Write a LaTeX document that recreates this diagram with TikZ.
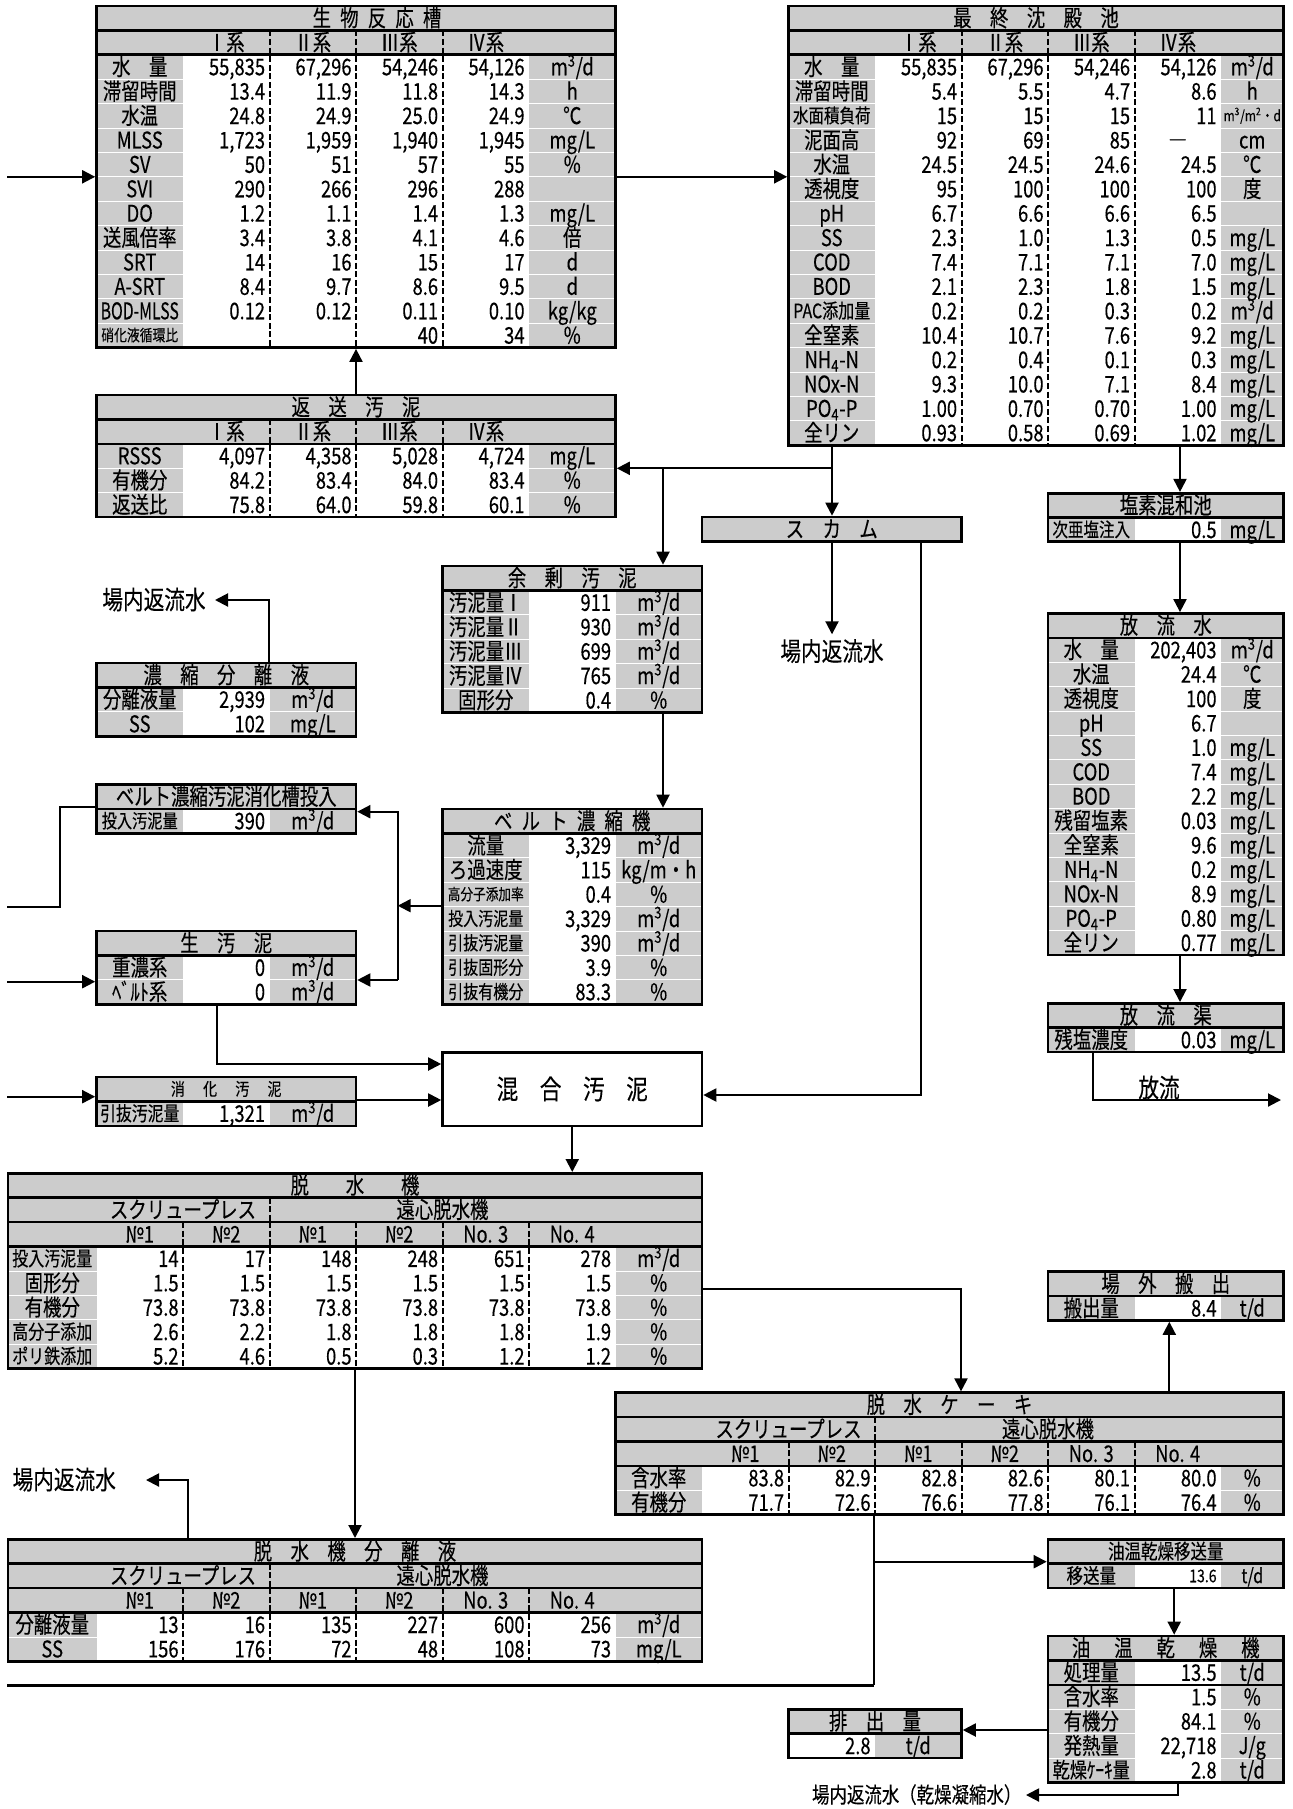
\documentclass[tikz,border=0pt]{standalone}
\usepackage{fontspec}
\setmainfont{Noto Sans CJK JP}[FakeBold=0.3]
\usetikzlibrary{arrows.meta,fit}
\definecolor{cg}{RGB}{204,204,204}
\newcounter{nn}
\newcommand\fs[1]{\fontsize{#1}{#1}\selectfont}
\newcommand\gq{\hspace{1em}}
\newcommand\gh{\hspace{0.5em}}
\newcommand\mcd{m\textsuperscript{3}/d}
\newcommand\nx[2]{\scalebox{#1}[1]{#2}}
\newcommand\sx[1]{\scalebox{0.8}[1]{#1}}
\tikzset{
 fsz/.style={font=\fs{#1},text height=0.86*#1,text depth=0.14*#1},
 tx/.style={inner sep=0pt,fsz=11.5pt},
 frame/.style={draw,line width=1.3pt,inner sep=0pt},
 sep/.style={line width=1.3pt},
 dv/.style={line width=1pt,dash pattern=on 3pt off 1.3pt},
 rowl/.style={white,line width=0.4pt},
 conn/.style={line width=1pt},
 arr/.style={conn,-{Triangle[length=6.5pt,width=6.5pt]}},
}
\newcommand\tn[4][]{\stepcounter{nn}\node[tx,#1] (n\arabic{nn}) at ({#2},{#3}) {\sx{#4}};}
\newcommand\setT[4]{\gdef\Yt{#1}\gdef\Lc{#2}\gdef\Vz{#3}\gdef\Uc{#4}}
\newcommand\rw[5][]{%
 \tn[#1]{\Lc}{\Yt+(#2+0.5)*24.4}{#3}%
 \foreach \v [count=\i] in {#4}{\tn[anchor=east]{\Vz+\i*86.5-4}{\Yt+(#2+0.5)*24.4}{\v}}%
 \tn{\Uc}{\Yt+(#2+0.5)*24.4}{#5}}
\newcommand\hdr[3]{\foreach \c [count=\i] in {#3}{\tn{#2+(\i-0.5)*86.5}{#1}{\c}}}
\newcommand\cbg[4]{\fill[cg] (#1,#2) rectangle (#3,#4);}
\newcommand\cwh[4]{\fill[white] (#1,#2) rectangle (#3,#4);}
\newcommand\hsp[3]{\draw[sep] (#1,#3) -- (#2,#3);}
\newcommand\dvs[3]{\foreach \xx in {#3}{\draw[dv] (\xx,#1) -- (\xx,#2);}}
\newcommand\rls[5]{\foreach \k in {#4,...,#5}{\draw[rowl] (#1,{#3+\k*24.4}) -- (#2,{#3+\k*24.4});}}
\newcommand\frm[5]{\node[frame,fit={(#2,#3) (#4,#5)}] (#1) {};}
\begin{document}
\begin{tikzpicture}[x=0.5pt,y=-0.5pt]
\fill[white] (0,0) rectangle (1292,1809);
\useasboundingbox (0,0) rectangle (1292,1809);

% ===== 生物反応槽 =====
\cbg{96.5}{6}{615.5}{347.6}
\cwh{183}{54.8}{529}{347.6}
\rls{96.5}{615.5}{6}{3}{13}
\setT{6}{139.75}{183}{572.25}
\tn{377}{18.2}{生\gh 物\gh 反\gh 応\gh 槽}
\hdr{42.6}{183}{Ⅰ系,Ⅱ系,Ⅲ系,Ⅳ系}
\rw{2}{水\gq 量}{{55,835},{67,296},{54,246},{54,126}}{\mcd}
\rw{3}{滞留時間}{13.4,11.9,11.8,14.3}{h}
\rw{4}{水温}{24.8,24.9,25.0,24.9}{℃}
\rw{5}{MLSS}{{1,723},{1,959},{1,940},{1,945}}{mg/L}
\rw{6}{SV}{50,51,57,55}{\%}
\rw{7}{SVI}{290,266,296,288}{}
\rw{8}{DO}{1.2,1.1,1.4,1.3}{mg/L}
\rw{9}{送風倍率}{3.4,3.8,4.1,4.6}{倍}
\rw{10}{SRT}{14,16,15,17}{d}
\rw{11}{A-SRT}{8.4,9.7,8.6,9.5}{d}
\rw{12}{\nx{0.86}{BOD-MLSS}}{0.12,0.12,0.11,0.10}{kg/kg}
\rw[fsz=8pt]{13}{硝化液循環比}{{},{},40,34}{\%}
\dvs{30.4}{347.6}{269.5,356,442.5}
\hsp{96.5}{615.5}{30.4}\hsp{96.5}{615.5}{54.8}
\frm{t1}{96.5}{6}{615.5}{347.6}

% ===== 最終沈殿池 =====
\cbg{788.5}{6}{1283.5}{445.2}
\cwh{875}{54.8}{1221}{445.2}
\rls{788.5}{1283.5}{6}{3}{17}
\setT{6}{831.75}{875}{1252.25}
\tn{1036}{18.2}{最\gq 終\gq 沈\gq 殿\gq 池}
\hdr{42.6}{875}{Ⅰ系,Ⅱ系,Ⅲ系,Ⅳ系}
\rw{2}{水\gq 量}{{55,835},{67,296},{54,246},{54,126}}{\mcd}
\rw{3}{滞留時間}{5.4,5.5,4.7,8.6}{h}
\rw[fsz=9.7pt]{4}{水面積負荷}{15,15,15,11}{}
\tn[fsz=7.5pt]{1252.25}{6+4.5*24.4}{m\textsuperscript{3}/m\textsuperscript{2}・d}
\rw{5}{泥面高}{92,69,85,{}}{cm}
\tn{1177.75}{6+5.5*24.4}{―}
\rw{6}{水温}{24.5,24.5,24.6,24.5}{℃}
\rw{7}{透視度}{95,100,100,100}{度}
\rw{8}{pH}{6.7,6.6,6.6,6.5}{}
\rw{9}{SS}{2.3,1.0,1.3,0.5}{mg/L}
\rw{10}{COD}{7.4,7.1,7.1,7.0}{mg/L}
\rw{11}{BOD}{2.1,2.3,1.8,1.5}{mg/L}
\rw[fsz=10pt]{12}{PAC添加量}{0.2,0.2,0.3,0.2}{\mcd}
\rw{13}{全窒素}{10.4,10.7,7.6,9.2}{mg/L}
\rw{14}{NH\textsubscript{4}-N}{0.2,0.4,0.1,0.3}{mg/L}
\rw{15}{NOx-N}{9.3,10.0,7.1,8.4}{mg/L}
\rw{16}{PO\textsubscript{4}-P}{1.00,0.70,0.70,1.00}{mg/L}
\rw{17}{全リン}{0.93,0.58,0.69,1.02}{mg/L}
\dvs{30.4}{445.2}{961.5,1048,1134.5}
\hsp{788.5}{1283.5}{30.4}\hsp{788.5}{1283.5}{54.8}
\frm{t2}{788.5}{6}{1283.5}{445.2}

% ===== 返送汚泥 =====
\cbg{96.5}{395}{615.5}{517}
\cwh{183}{443.8}{529}{517}
\rls{96.5}{615.5}{395}{3}{4}
\setT{395}{139.75}{183}{572.25}
\tn{356}{407.2}{返\gq 送\gq 汚\gq 泥}
\hdr{431.6}{183}{Ⅰ系,Ⅱ系,Ⅲ系,Ⅳ系}
\rw{2}{RSSS}{{4,097},{4,358},{5,028},{4,724}}{mg/L}
\rw{3}{有機分}{84.2,83.4,84.0,83.4}{\%}
\rw{4}{返送比}{75.8,64.0,59.8,60.1}{\%}
\dvs{419.4}{517}{269.5,356,442.5}
\hsp{96.5}{615.5}{419.4}\hsp{96.5}{615.5}{443.8}
\frm{t3}{96.5}{395}{615.5}{517}

% ===== スカム =====
\cbg{702}{517}{961.5}{541.4}
\tn{831.75}{529.2}{ス\gq カ\gq ム}
\frm{sc}{702}{517}{961.5}{541.4}

% ===== 余剰汚泥 =====
\cbg{442.5}{566}{702}{712.4}
\cwh{529}{590.4}{615.5}{712.4}
\rls{442.5}{702}{566}{2}{5}
\setT{566}{485.75}{529}{658.75}
\tn{572.25}{578.2}{余\gq 剰\gq 汚\gq 泥}
\rw{1}{汚泥量Ⅰ}{911}{\mcd}
\rw{2}{汚泥量Ⅱ}{930}{\mcd}
\rw{3}{汚泥量Ⅲ}{699}{\mcd}
\rw{4}{汚泥量Ⅳ}{765}{\mcd}
\rw{5}{固形分}{0.4}{\%}
\hsp{442.5}{702}{590.4}
\frm{yj}{442.5}{566}{702}{712.4}

% ===== 濃縮分離液 =====
\cbg{96.5}{663}{356}{736.2}
\cwh{183}{687.4}{269.5}{736.2}
\rls{96.5}{356}{663}{2}{2}
\setT{663}{139.75}{183}{312.75}
\tn{226.25}{675.2}{濃\gq 縮\gq 分\gq 離\gq 液}
\rw{1}{分離液量}{{2,939}}{\mcd}
\rw{2}{SS}{102}{mg/L}
\hsp{96.5}{356}{687.4}
\frm{nb}{96.5}{663}{356}{736.2}

% ===== ベルト濃縮汚泥消化槽投入 =====
\cbg{96.5}{784.5}{356}{833.3}
\cwh{183}{808.9}{269.5}{833.3}
\setT{784.5}{139.75}{183}{312.75}
\tn{226.25}{796.7}{ベルト濃縮汚泥消化槽投入}
\rw[fsz=9.5pt]{1}{投入汚泥量}{390}{\mcd}
\hsp{96.5}{356}{808.9}
\frm{bt}{96.5}{784.5}{356}{833.3}

% ===== ベルト濃縮機 =====
\cbg{442.5}{809}{702}{1004.2}
\cwh{529}{833.4}{615.5}{1004.2}
\rls{442.5}{702}{809}{2}{7}
\setT{809}{485.75}{529}{658.75}
\tn{572.25}{821.2}{ベ\gh ル\gh ト\gh 濃\gh 縮\gh 機}
\rw{1}{流量}{{3,329}}{\mcd}
\rw{2}{ろ過速度}{115}{kg/m・h}
\rw[fsz=7.9pt]{3}{高分子添加率}{0.4}{\%}
\rw[fsz=9.4pt]{4}{投入汚泥量}{{3,329}}{\mcd}
\rw[fsz=9.4pt]{5}{引抜汚泥量}{390}{\mcd}
\rw[fsz=9.4pt]{6}{引抜固形分}{3.9}{\%}
\rw[fsz=9.4pt]{7}{引抜有機分}{83.3}{\%}
\hsp{442.5}{702}{833.4}
\frm{bn}{442.5}{809}{702}{1004.2}

% ===== 生汚泥 =====
\cbg{96.5}{931}{356}{1004.2}
\cwh{183}{955.4}{269.5}{1004.2}
\rls{96.5}{356}{931}{2}{2}
\setT{931}{139.75}{183}{312.75}
\tn{226.25}{943.2}{生\gq 汚\gq 泥}
\rw{1}{重濃系}{0}{\mcd}
\rw{2}{ﾍﾞﾙﾄ系}{0}{\mcd}
\hsp{96.5}{356}{955.4}
\frm{ns}{96.5}{931}{356}{1004.2}

% ===== 消化汚泥 =====
\cbg{96.5}{1077}{356}{1125.8}
\cwh{183}{1101.4}{269.5}{1125.8}
\setT{1077}{139.75}{183}{312.75}
\tn[fsz=8.75pt]{226.25}{1089.2}{消\hspace{1.3em}化\hspace{1.3em}汚\hspace{1.3em}泥}
\rw[fsz=9.9pt]{1}{引抜汚泥量}{{1,321}}{\mcd}
\hsp{96.5}{356}{1101.4}
\frm{sk}{96.5}{1077}{356}{1125.8}

% ===== 混合汚泥 =====
\cwh{442.5}{1052.7}{702}{1126}
\tn[fsz=13.5pt]{572.25}{1089.4}{混\gq 合\gq 汚\gq 泥}
\frm{km}{442.5}{1052.7}{702}{1126}

% ===== 塩素混和池 =====
\cbg{1048}{493.2}{1283.5}{541.6}
\cwh{1134.5}{517.6}{1221}{541.6}
\setT{493.2}{1091.25}{1134.5}{1252.25}
\tn{1165.75}{505.4}{塩素混和池}
\rw[fsz=9.7pt]{1}{次亜塩注入}{0.5}{mg/L}
\hsp{1048}{1283.5}{517.6}
\frm{en}{1048}{493.2}{1283.5}{541.6}

% ===== 放流水 =====
\cbg{1048}{613.4}{1283.5}{955}
\cwh{1134.5}{637.8}{1221}{955}
\rls{1048}{1283.5}{613.4}{2}{13}
\setT{613.4}{1091.25}{1134.5}{1252.25}
\tn{1165.75}{625.6}{放\gq 流\gq 水}
\rw{1}{水\gq 量}{{202,403}}{\mcd}
\rw{2}{水温}{24.4}{℃}
\rw{3}{透視度}{100}{度}
\rw{4}{pH}{6.7}{}
\rw{5}{SS}{1.0}{mg/L}
\rw{6}{COD}{7.4}{mg/L}
\rw{7}{BOD}{2.2}{mg/L}
\rw{8}{残留塩素}{0.03}{mg/L}
\rw{9}{全窒素}{9.6}{mg/L}
\rw{10}{NH\textsubscript{4}-N}{0.2}{mg/L}
\rw{11}{NOx-N}{8.9}{mg/L}
\rw{12}{PO\textsubscript{4}-P}{0.80}{mg/L}
\rw{13}{全リン}{0.77}{mg/L}
\hsp{1048}{1283.5}{637.8}
\frm{hs}{1048}{613.4}{1283.5}{955}

% ===== 放流渠 =====
\cbg{1048}{1003.3}{1283.5}{1052.1}
\cwh{1134.5}{1027.7}{1221}{1052.1}
\setT{1003.3}{1091.25}{1134.5}{1252.25}
\tn{1165.75}{1015.5}{放\gq 流\gq 渠}
\rw{1}{残塩濃度}{0.03}{mg/L}
\hsp{1048}{1283.5}{1027.7}
\frm{hk}{1048}{1003.3}{1283.5}{1052.1}

% ===== 脱水機 =====
\cbg{8}{1173.3}{702}{1368.5}
\cwh{96.5}{1246.5}{615.5}{1368.5}
\rls{8}{702}{1173.3}{4}{7}
\setT{1173.3}{52.25}{96.5}{658.75}
\tn{355}{1185.5}{脱\gq\gq 水\gq\gq 機}
\tn{183}{1209.9}{スクリュープレス}
\tn{442.5}{1209.9}{遠心脱水機}
\hdr{1234.3}{96.5}{№1,№2,№1,№2,No. 3,No. 4}
\rw[fsz=10pt]{3}{投入汚泥量}{14,17,148,248,651,278}{\mcd}
\rw{4}{固形分}{1.5,1.5,1.5,1.5,1.5,1.5}{\%}
\rw{5}{有機分}{73.8,73.8,73.8,73.8,73.8,73.8}{\%}
\rw[fsz=10pt]{6}{高分子添加}{2.6,2.2,1.8,1.8,1.8,1.9}{\%}
\rw[fsz=10pt]{7}{ポリ鉄添加}{5.2,4.6,0.5,0.3,1.2,1.2}{\%}
\dvs{1197.7}{1222.1}{269.5}
\dvs{1222.1}{1368.5}{183,269.5,356,442.5,529}
\hsp{8}{702}{1197.7}\hsp{8}{702}{1222.1}\hsp{8}{702}{1246.5}
\frm{dm}{8}{1173.3}{702}{1368.5}

% ===== 場外搬出 =====
\cbg{1048}{1271.7}{1283.5}{1320.5}
\cwh{1134.5}{1296.1}{1221}{1320.5}
\setT{1271.7}{1091.25}{1134.5}{1252.25}
\tn{1165.75}{1283.9}{場\gq 外\gq 搬\gq 出}
\rw{1}{搬出量}{8.4}{t/d}
\hsp{1048}{1283.5}{1296.1}
\frm{jg}{1048}{1271.7}{1283.5}{1320.5}

% ===== 脱水ケーキ =====
\cbg{615.5}{1392.7}{1283.5}{1514.7}
\cwh{702}{1465.9}{1221}{1514.7}
\rls{615.5}{1283.5}{1392.7}{4}{4}
\setT{1392.7}{658.75}{702}{1252.25}
\tn{949.5}{1404.9}{脱\gq 水\gq ケ\gq ー\gq キ}
\tn{788.5}{1429.3}{スクリュープレス}
\tn{1048}{1429.3}{遠心脱水機}
\hdr{1453.7}{702}{№1,№2,№1,№2,No. 3,No. 4}
\rw{3}{含水率}{83.8,82.9,82.8,82.6,80.1,80.0}{\%}
\rw{4}{有機分}{71.7,72.6,76.6,77.8,76.1,76.4}{\%}
\dvs{1417.1}{1441.5}{875}
\dvs{1441.5}{1514.7}{788.5,875,961.5,1048,1134.5}
\hsp{615.5}{1283.5}{1417.1}\hsp{615.5}{1283.5}{1441.5}\hsp{615.5}{1283.5}{1465.9}
\frm{dc}{615.5}{1392.7}{1283.5}{1514.7}

% ===== 脱水機分離液 =====
\cbg{8}{1539.3}{702}{1661.3}
\cwh{96.5}{1612.5}{615.5}{1661.3}
\rls{8}{702}{1539.3}{4}{4}
\setT{1539.3}{52.25}{96.5}{658.75}
\tn{355}{1551.5}{脱\gq 水\gq 機\gq 分\gq 離\gq 液}
\tn{183}{1575.9}{スクリュープレス}
\tn{442.5}{1575.9}{遠心脱水機}
\hdr{1600.3}{96.5}{№1,№2,№1,№2,No. 3,No. 4}
\rw{3}{分離液量}{13,16,135,227,600,256}{\mcd}
\rw{4}{SS}{156,176,72,48,108,73}{mg/L}
\dvs{1563.7}{1588.1}{269.5}
\dvs{1588.1}{1661.3}{183,269.5,356,442.5,529}
\hsp{8}{702}{1563.7}\hsp{8}{702}{1588.1}\hsp{8}{702}{1612.5}
\frm{db}{8}{1539.3}{702}{1661.3}

% ===== 油温乾燥移送量 =====
\cbg{1048}{1539.3}{1283.5}{1588.1}
\cwh{1134.5}{1563.7}{1221}{1588.1}
\tn[fsz=10.3pt]{1165.75}{1551.5}{油温乾燥移送量}
\tn[fsz=10.3pt]{1091.25}{1575.9}{移送量}
\tn[fsz=8.8pt,anchor=east]{1217}{1575.9}{13.6}
\tn[fsz=10pt]{1252.25}{1575.9}{t/d}
\hsp{1048}{1283.5}{1563.7}
\frm{ym}{1048}{1539.3}{1283.5}{1588.1}

% ===== 油温乾燥機 =====
\cbg{1048}{1636}{1283.5}{1782.4}
\cwh{1134.5}{1660.4}{1221}{1782.4}
\rls{1048}{1283.5}{1636}{3}{5}
\setT{1636}{1091.25}{1134.5}{1252.25}
\tn{1165.75}{1648.2}{油\hspace{1.3em}温\hspace{1.3em}乾\hspace{1.3em}燥\hspace{1.3em}機}
\rw{1}{処理量}{13.5}{t/d}
\rw{2}{含水率}{1.5}{\%}
\rw{3}{有機分}{84.1}{\%}
\rw{4}{発熱量}{{22,718}}{J/g}
\rw[fsz=10.7pt]{5}{乾燥ｹｰｷ量}{2.8}{t/d}
\hsp{1048}{1283.5}{1660.4}\hsp{1048}{1283.5}{1684.8}
\frm{yk}{1048}{1636}{1283.5}{1782.4}

% ===== 排出量 =====
\cbg{788.5}{1709.3}{961.5}{1758.1}
\cwh{788.5}{1733.7}{875}{1758.1}
\tn{875}{1721.5}{排\gq 出\gq 量}
\tn[anchor=east]{871}{1745.9}{2.8}
\tn{918.25}{1745.9}{t/d}
\hsp{788.5}{961.5}{1733.7}
\frm{hd}{788.5}{1709.3}{961.5}{1758.1}

% ===== free texts =====
\node[tx,fsz=12.9pt] (rt1) at (154,600) {\sx{場内返流水}};
\node[tx,fsz=12.9pt] (rt2) at (832,651.6) {\sx{場内返流水}};
\node[tx,fsz=12.9pt] (rt3) at (64.25,1480) {\sx{場内返流水}};
\node[tx,fsz=10.9pt] (rt4) at (916.7,1795) {\sx{場内返流水（乾燥凝縮水）}};
\node[tx,fsz=12.9pt] (hr) at (1159,1088) {\sx{放流}};

% ===== connectors =====
\coordinate (in1) at (7,176.8);
\draw[arr] (in1) -- (in1 -| t1.west);
\draw[arr] (t1.east) -- (t1.east -| t2.west);
\draw[arr] (t3.north) -- (t1.south);
\coordinate (j1) at (832,468.3);
\coordinate (j2) at (663,468.3);
\draw[conn] (t2.south -| j1) -- (j1);
\draw[arr] (j1) -- (j1 -| t3.east);
\draw[arr] (j1) -- (j1 |- sc.north);
\draw[arr] (j2) -- (j2 |- yj.north);
\coordinate (c5) at (1180,0);
\draw[arr] (t2.south -| c5) -- (en.north -| c5);
\draw[arr] (en.south -| c5) -- (hs.north -| c5);
\draw[arr] (hs.south -| c5) -- (hk.north -| c5);
\coordinate (c8) at (1093,1100);
\coordinate (out1) at (1281,1100);
\draw[arr] (hk.south -| c8) -- (c8) -- (out1);
\draw[arr,shorten >=2pt] (sc.south -| j1) -- (rt2.north -| j1);
\coordinate (c10) at (920.7,1095);
\draw[arr] (sc.south -| c10) -- (c10) -- (c10 -| km.east);
\draw[arr] (yj.south -| j2) -- (bn.north -| j2);
\coordinate (c12) at (268.6,600);
\coordinate (c12t) at (215,600);
\draw[arr] (nb.north -| c12) -- (c12) -- (c12t);
\coordinate (c13) at (397.7,905.7);
\draw[arr] (c13 -| bn.west) -- (c13);
\coordinate (v1) at (397.7,811.7);
\coordinate (v2) at (397.7,980);
\draw[arr] (v2) -- (v1) -- (v1 -| bt.east);
\draw[arr] (v2) -- (v2 -| ns.east);
\coordinate (c15a) at (59.7,806.7);
\coordinate (c15b) at (59.7,906.7);
\coordinate (c15c) at (7,906.7);
\draw[conn] (c15a -| bt.west) -- (c15a) -- (c15b) -- (c15c);
\coordinate (in2) at (7,981.7);
\draw[arr] (in2) -- (in2 -| ns.west);
\coordinate (c17) at (216.7,1064);
\draw[arr] (ns.south -| c17) -- (c17) -- (c17 -| km.west);
\coordinate (in3) at (7,1096.7);
\draw[arr] (in3) -- (in3 -| sk.west);
\coordinate (c19) at (0,1100);
\draw[arr] (sk.east |- c19) -- (km.west |- c19);
\draw[arr] (km.south) -- (km.south |- dm.north);
\coordinate (c21) at (961,1289.3);
\draw[arr] (dm.east |- c21) -- (c21) -- (c21 |- dc.north);
\coordinate (c22) at (1169.3,0);
\draw[arr] (dc.north -| c22) -- (jg.south -| c22);
\draw[arr] (dm.south) -- (db.north);
\coordinate (c24) at (188,1480);
\coordinate (c24t) at (146,1480);
\draw[arr] (db.north -| c24) -- (c24) -- (c24t);
\coordinate (c25a) at (873.5,1685);
\coordinate (c25b) at (6.6,1685);
\coordinate (c25j) at (873.5,1561.7);
\draw[conn] (dc.south -| c25a) -- (c25a);
\draw[line width=1.5pt] (c25a) -- (c25b);
\draw[arr] (c25j) -- (c25j -| ym.west);
\coordinate (c26) at (1174.2,0);
\draw[arr] (ym.south -| c26) -- (yk.north -| c26);
\coordinate (c27) at (0,1730);
\draw[arr] (yk.west |- c27) -- (hd.east |- c27);
\coordinate (c28) at (1178,1795);
\coordinate (c28t) at (1026,1795);
\draw[arr] (yk.south -| c28) -- (c28) -- (c28t);
\end{tikzpicture}
\end{document}
